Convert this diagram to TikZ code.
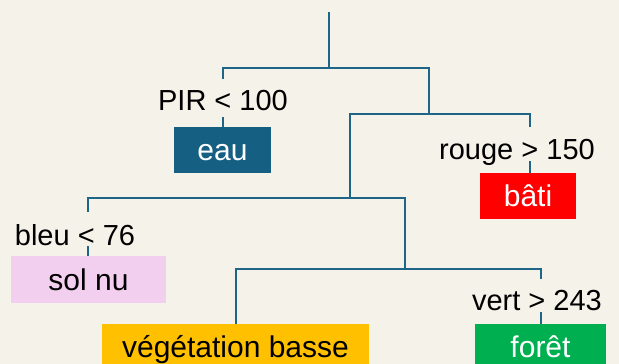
\documentclass[tikz,border=0pt]{standalone}
\usepackage{fontspec}
\setmainfont{Liberation Sans}
\definecolor{bg}{HTML}{F5F2EA}
\definecolor{ln}{HTML}{1F6587}
\definecolor{eauc}{HTML}{156082}
\definecolor{batic}{HTML}{FF0000}
\definecolor{solc}{HTML}{F2CEEF}
\definecolor{vegc}{HTML}{FFC000}
\definecolor{forc}{HTML}{00B050}
\begin{document}
\begin{tikzpicture}[x=1pt,y=-1pt,
  conn/.style={draw=ln,line width=2pt},
  cond/.style={inner sep=0pt,font=\fontsize{29}{29}\selectfont,text height=20.5pt,text depth=0pt,anchor=center},
  leaf/.style={inner sep=0pt,font=\fontsize{30}{30}\selectfont,text height=21pt,text depth=0pt,anchor=center,minimum height=46pt}]
\useasboundingbox (0,0) rectangle (619,364);
\fill[bg] (0,0) rectangle (619,364);
% leaves
\node[leaf,fill=eauc,text=white,minimum width=97pt] (eau) at (222.5,150) {eau};
\node[leaf,fill=batic,text=white,minimum width=96pt] (bati) at (528,196) {bâti};
\node[leaf,fill=solc,text=black,minimum width=155pt,minimum height=47pt] (sol) at (88.5,279.5) {sol nu};
\node[leaf,fill=vegc,text=black,minimum width=267pt] (veg) at (235.5,347) {végétation basse};
\node[leaf,fill=forc,text=white,minimum width=131pt] (foret) at (540.5,347) {forêt};
% conditions
\node[cond] (pir) at (223,100.5) {PIR < 100};
\node[cond] (rouge) at (517,149) {rouge > 150};
\node[cond] (bleu) at (75,235) {bleu < 76};
\node[cond] (vert) at (537,300) {vert > 243};
% coordinates
\coordinate (root) at (329,12);
\coordinate (j0) at (329,68);
\coordinate (j1) at (429,68);
\coordinate (j1b) at (429,114);
\coordinate (j2) at (350,114);
\coordinate (j2b) at (350,198);
\coordinate (j3) at (405,198);
\coordinate (j3b) at (405,269);
\coordinate (j4) at (235.5,269);
\coordinate (j5) at (541,269);
\coordinate (pirt) at (223,79);
\coordinate (pirb) at (223,117);
\coordinate (rouget) at (530,127);
\coordinate (rougeb) at (530,161);
\coordinate (bleut) at (88,212);
\coordinate (bleub) at (88,246);
\coordinate (vertt) at (541,279);
\coordinate (vertb) at (541,312);
% connectors
\draw[conn] (root) -- (j0);
\draw[conn] (pirt) |- (j1) -- (j1b);
\draw[conn] (pirb) -- (pirb |- eau.north);
\draw[conn] (rouget) |- (j2) -- (j2b);
\draw[conn] (rougeb) -- (rougeb |- bati.north);
\draw[conn] (bleut) |- (j3) -- (j3b);
\draw[conn] (bleub) -- (bleub |- sol.north);
\draw[conn] (veg.north) -- (j4) -- (j5) -- (vertt);
\draw[conn] (vertb) -- (vertb |- foret.north);
\end{tikzpicture}
\end{document}
